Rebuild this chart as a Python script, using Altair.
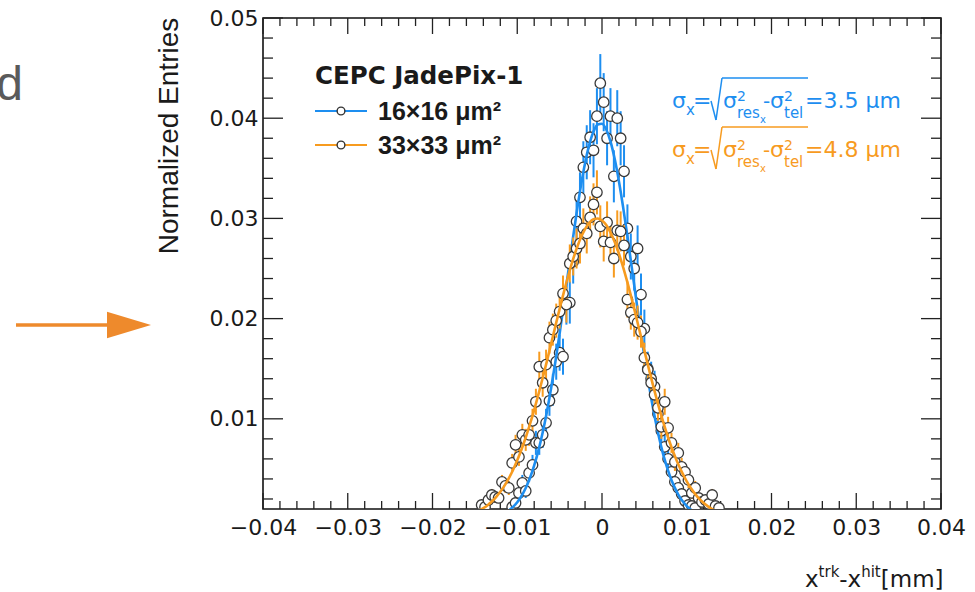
import altair as alt
import pandas as pd

# ---------------- data ----------------
x_major = [-0.04, -0.03, -0.02, -0.01, 0.0, 0.01, 0.02, 0.03, 0.04]
y_major = [0.01, 0.02, 0.03, 0.04, 0.05]

blue_x = [-0.0106, -0.0102, -0.0098, -0.0094, -0.0090, -0.0086, -0.0082, -0.0078, -0.0074, -0.0070,
          -0.0066, -0.0062, -0.0058, -0.0054, -0.0050, -0.0046, -0.0042, -0.0038, -0.0034, -0.0030,
          -0.0026, -0.0022, -0.0018, -0.0014, -0.0010, -0.0006, -0.0002, 0.0002, 0.0006, 0.0010,
          0.0014, 0.0018, 0.0022, 0.0026, 0.0030, 0.0034, 0.0038, 0.0042, 0.0046, 0.0050,
          0.0054, 0.0058, 0.0062, 0.0066, 0.0070, 0.0074, 0.0078, 0.0082, 0.0086, 0.0090,
          0.0094, 0.0098, 0.0102, 0.0106, 0.0110]
blue_y = [0.0012, 0.0016, 0.0026, 0.0036, 0.0028, 0.0046, 0.0054, 0.0076, 0.0076, 0.0084,
          0.0096, 0.0118, 0.0129, 0.0157, 0.0166, 0.0162, 0.0215, 0.0216, 0.0257, 0.0297,
          0.0321, 0.0351, 0.0366, 0.0381, 0.0368, 0.0402, 0.0435, 0.0416, 0.0380, 0.0402,
          0.0342, 0.0400, 0.0380, 0.0347, 0.0290, 0.0262, 0.0250, 0.0270, 0.0224, 0.0190,
          0.0150, 0.0140, 0.0132, 0.0105, 0.0088, 0.0072, 0.0060, 0.0047, 0.0037, 0.0031,
          0.0025, 0.0018, 0.0014, 0.0013, 0.0011]
blue_err = [0.0005, 0.0006, 0.0007, 0.0008, 0.0007, 0.0009, 0.0010, 0.0012, 0.0012, 0.0013,
            0.0014, 0.0015, 0.0016, 0.0018, 0.0018, 0.0018, 0.0021, 0.0021, 0.0022, 0.0024,
            0.0025, 0.0026, 0.0027, 0.0027, 0.0027, 0.0028, 0.0029, 0.0029, 0.0027, 0.0028,
            0.0026, 0.0028, 0.0027, 0.0026, 0.0024, 0.0023, 0.0022, 0.0023, 0.0021, 0.0019,
            0.0017, 0.0017, 0.0016, 0.0014, 0.0013, 0.0012, 0.0011, 0.0010, 0.0009, 0.0008,
            0.0007, 0.0006, 0.0005, 0.0005, 0.0005]

orange_x = [-0.0142, -0.0138, -0.0134, -0.0130, -0.0126, -0.0122, -0.0118, -0.0114, -0.0110, -0.0106,
            -0.0102, -0.0098, -0.0094, -0.0090, -0.0086, -0.0082, -0.0078, -0.0074, -0.0070, -0.0066,
            -0.0062, -0.0058, -0.0054, -0.0050, -0.0046, -0.0042, -0.0038, -0.0034, -0.0030, -0.0026,
            -0.0022, -0.0018, -0.0014, -0.0010, -0.0006, -0.0002, 0.0002, 0.0006, 0.0010, 0.0014,
            0.0018, 0.0022, 0.0026, 0.0030, 0.0034, 0.0038, 0.0042, 0.0046, 0.0050, 0.0054,
            0.0058, 0.0062, 0.0066, 0.0070, 0.0074, 0.0078, 0.0082, 0.0086, 0.0090, 0.0094,
            0.0098, 0.0102, 0.0106, 0.0110, 0.0114, 0.0118, 0.0122, 0.0126, 0.0130, 0.0134,
            0.0138]
orange_y = [0.0014, 0.0012, 0.0019, 0.0024, 0.0022, 0.0021, 0.0037, 0.0033, 0.0031, 0.0056,
            0.0074, 0.0062, 0.0084, 0.0079, 0.0084, 0.0098, 0.0117, 0.0152, 0.0136, 0.0154,
            0.0181, 0.0189, 0.0198, 0.0207, 0.0225, 0.0214, 0.0255, 0.0262, 0.0270, 0.0275,
            0.0290, 0.0285, 0.0301, 0.0314, 0.0326, 0.0292, 0.0277, 0.0296, 0.0276, 0.0260,
            0.0288, 0.0287, 0.0273, 0.0219, 0.0206, 0.0199, 0.0196, 0.0187, 0.0161, 0.0149,
            0.0136, 0.0124, 0.0111, 0.0092, 0.0117, 0.0091, 0.0076, 0.0057, 0.0066, 0.0052,
            0.0047, 0.0039, 0.0026, 0.0031, 0.0021, 0.0017, 0.0019, 0.0015, 0.0024, 0.0013,
            0.0011]
orange_err = [0.0004, 0.0004, 0.0005, 0.0006, 0.0006, 0.0005, 0.0007, 0.0007, 0.0007, 0.0009,
              0.0010, 0.0009, 0.0011, 0.0011, 0.0011, 0.0012, 0.0013, 0.0015, 0.0014, 0.0015,
              0.0016, 0.0016, 0.0017, 0.0017, 0.0018, 0.0018, 0.0019, 0.0019, 0.0020, 0.0020,
              0.0020, 0.0020, 0.0021, 0.0021, 0.0022, 0.0021, 0.0020, 0.0021, 0.0020, 0.0019,
              0.0020, 0.0020, 0.0020, 0.0018, 0.0017, 0.0017, 0.0017, 0.0016, 0.0015, 0.0015,
              0.0014, 0.0013, 0.0013, 0.0012, 0.0013, 0.0011, 0.0010, 0.0009, 0.0010, 0.0009,
              0.0008, 0.0008, 0.0006, 0.0007, 0.0005, 0.0005, 0.0005, 0.0005, 0.0006, 0.0004,
              0.0004]

# fitted curves
blue_fit_x = [-0.0115, -0.011, -0.0105, -0.01, -0.0095, -0.009, -0.0085, -0.008, -0.0075, -0.007,
              -0.0065, -0.006, -0.0055, -0.005, -0.0045, -0.004, -0.0035, -0.003, -0.0025, -0.002,
              -0.0015, -0.001, -0.0005, 0.0, 0.0005, 0.001, 0.0015, 0.002, 0.0025, 0.003,
              0.0035, 0.004, 0.0045, 0.005, 0.0055, 0.006, 0.0065, 0.007, 0.0075, 0.008,
              0.0085, 0.009, 0.0095, 0.01, 0.0105, 0.011]
blue_fit_y = [0.00059, 0.00085, 0.00121, 0.00168, 0.00230, 0.00310, 0.00410, 0.00535, 0.00685, 0.00864,
              0.01071, 0.01307, 0.01569, 0.01852, 0.02151, 0.02457, 0.02761, 0.03052, 0.03320, 0.03551,
              0.03736, 0.03868, 0.03938, 0.03945, 0.03887, 0.03768, 0.03592, 0.03369, 0.03108, 0.02821,
              0.02519, 0.02212, 0.01911, 0.01624, 0.01357, 0.01116, 0.00903, 0.00718, 0.00562, 0.00433,
              0.00328, 0.00244, 0.00179, 0.00129, 0.00092, 0.00064]
orange_fit_x = [-0.0155, -0.015, -0.0145, -0.014, -0.0135, -0.013, -0.0125, -0.012, -0.0115, -0.011,
                -0.0105, -0.01, -0.0095, -0.009, -0.0085, -0.008, -0.0075, -0.007, -0.0065, -0.006,
                -0.0055, -0.005, -0.0045, -0.004, -0.0035, -0.003, -0.0025, -0.002, -0.0015, -0.001,
                -0.0005, 0.0, 0.0005, 0.001, 0.0015, 0.002, 0.0025, 0.003, 0.0035, 0.004,
                0.0045, 0.005, 0.0055, 0.006, 0.0065, 0.007, 0.0075, 0.008, 0.0085, 0.009,
                0.0095, 0.01, 0.0105, 0.011, 0.0115, 0.012, 0.0125, 0.013, 0.0135]
orange_fit_y = [0.000495, 0.000649, 0.000842, 0.001085, 0.001383, 0.001748, 0.002188, 0.002714, 0.003334, 0.004060,
                0.004899, 0.005856, 0.006934, 0.008137, 0.009460, 0.01090, 0.01244, 0.01407, 0.01576, 0.01750,
                0.01925, 0.02097, 0.02265, 0.02423, 0.02568, 0.02697, 0.02806, 0.02893, 0.02955, 0.02991,
                0.02999, 0.02980, 0.02934, 0.02861, 0.02765, 0.02647, 0.02512, 0.02361, 0.02199, 0.02029,
                0.01855, 0.01680, 0.01508, 0.01341, 0.01181, 0.01031, 0.00892, 0.00764, 0.00649, 0.00546,
                0.00455, 0.00376, 0.00307, 0.00249, 0.00200, 0.00159, 0.00126, 0.00098, 0.00076]

legend_title = "CEPC JadePix-1"
legend_labels = ["16\u00d716 \u03bcm\u00b2", "33\u00d733 \u03bcm\u00b2"]
sigma_values = ["=3.5 \u03bcm", "=4.8 \u03bcm"]
y_title = "Normalized Entries"

# ---------------- style ----------------
BLUE = "#1d8ef0"
ORANGE = "#f79b1f"
ARROW = "#ee8a2c"
INK = "#1a1a1a"
W, H = 678, 491
NUM_FONT = "DejaVu Sans"

xdef = dict(scale=alt.Scale(domain=[-0.04, 0.04], nice=False, zero=False),
            axis=alt.Axis(values=x_major, format=".2~f", ticks=False, domain=False, grid=False,
                          labelFont=NUM_FONT, labelFontSize=22, labelColor=INK, labelPadding=8,
                          labelFlush=False, labelOverlap=False, title=None))
ydef = dict(scale=alt.Scale(domain=[0.001, 0.05], nice=False, zero=False),
            axis=alt.Axis(values=y_major, format=".2~f", ticks=False, domain=False, grid=False,
                          labelFont=NUM_FONT, labelFontSize=22, labelColor=INK, labelPadding=5,
                          labelOverlap=False, title=None))


def X(f="x"):
    return alt.X(f"{f}:Q", **xdef)


def Y(f="y"):
    return alt.Y(f"{f}:Q", **ydef)


def hist_df(xs, ys, es):
    return pd.DataFrame({"x": xs, "y": ys,
                         "lo": [v - e for v, e in zip(ys, es)],
                         "hi": [v + e for v, e in zip(ys, es)]})


def series_layers(xs, ys, es, fx, fy, color):
    d = hist_df(xs, ys, es)
    bars = alt.Chart(d).mark_rule(color=color, strokeWidth=2, clip=True).encode(
        x=X(), y=Y("lo"), y2="hi:Q")
    pts = alt.Chart(d).mark_point(shape="circle", filled=False, fill="white", fillOpacity=1,
                                  stroke="#3a3a3a", strokeWidth=1.3, size=110, opacity=1,
                                  clip=True).encode(x=X(), y=Y())
    fit = alt.Chart(pd.DataFrame({"x": fx, "y": fy})).mark_line(
        color=color, strokeWidth=2.6, interpolate="monotone", clip=True).encode(x=X(), y=Y())
    return [bars, pts, fit]


one = alt.Data(values=[{"a": 0}])


def txt(s, x, y, size, color=INK, font=NUM_FONT, weight="normal", align="left", angle=0):
    return alt.Chart(alt.Data(values=[{"t": s}])).mark_text(
        font=font, fontSize=size, fontWeight=weight, color=color, align=align,
        baseline="alphabetic", angle=angle).encode(x=alt.value(x), y=alt.value(y), text="t:N")


def seg(x1, y1, x2, y2, color, w=1.6):
    return alt.Chart(one).mark_rule(color=color, strokeWidth=w).encode(
        x=alt.value(x1), y=alt.value(y1), x2=alt.value(x2), y2=alt.value(y2))


layers = []

# ROOT-style inward ticks on all four sides
x_minor = [round(m + k * 0.002, 3) for m in x_major[:-1] for k in (1, 2, 3, 4)]
y_minor = [round(m + k * 0.002, 3) for m in [0.0] + y_major[:-1] for k in (1, 2, 3, 4)]
for vals, ln in ((x_major, 16), (x_minor, 8)):
    dfx = pd.DataFrame({"x": vals})
    layers.append(alt.Chart(dfx).mark_rule(color="#222", strokeWidth=1.3).encode(
        x=X(), y=alt.value(H), y2=alt.value(H - ln)))
    layers.append(alt.Chart(dfx).mark_rule(color="#222", strokeWidth=1.3).encode(
        x=X(), y=alt.value(0), y2=alt.value(ln)))
for vals, ln in ((y_major, 20), (y_minor, 10)):
    dfy = pd.DataFrame({"y": vals})
    layers.append(alt.Chart(dfy).mark_rule(color="#222", strokeWidth=1.3).encode(
        y=Y(), x=alt.value(0), x2=alt.value(ln)))
    layers.append(alt.Chart(dfy).mark_rule(color="#222", strokeWidth=1.3).encode(
        y=Y(), x=alt.value(W), x2=alt.value(W - ln)))

layers += series_layers(blue_x, blue_y, blue_err, blue_fit_x, blue_fit_y, BLUE)
layers += series_layers(orange_x, orange_y, orange_err, orange_fit_x, orange_fit_y, ORANGE)

# legend
layers.append(txt(legend_title, 52, 66, 24.5, weight="bold"))
for lab, ly, col in ((legend_labels[0], 93, BLUE), (legend_labels[1], 127, ORANGE)):
    layers.append(seg(52, ly, 104, ly, col, 2.2))
    layers.append(alt.Chart(one).mark_point(shape="circle", filled=False, fill="white", fillOpacity=1,
                                            stroke="#333333", strokeWidth=1.4, size=60, opacity=1)
                  .encode(x=alt.value(78), y=alt.value(ly)))
    layers.append(txt(lab, 115, ly + 9, 25, font="Liberation Sans", weight="bold"))

# sigma annotations
for y0, val, col in ((90, sigma_values[0], BLUE), (139, sigma_values[1], ORANGE)):
    layers += [
        txt("\u03c3", 409, y0, 22, col),
        txt("x", 423, y0 + 7, 15, col),
        txt("=", 430, y0, 22, col),
        seg(448, y0 - 7, 453, y0 + 12, col, 1.5),
        seg(453, y0 + 12, 459, y0 - 30, col, 1.5),
        seg(459, y0 - 30, 545, y0 - 30, col, 1.5),
        txt("\u03c3", 460, y0, 22, col),
        txt("2", 474, y0 - 7, 14, col),
        txt("res", 474, y0 + 10, 15, col),
        txt("x", 497, y0 + 15, 10, col),
        txt("-", 500, y0, 20, col),
        txt("\u03c3", 507, y0, 22, col),
        txt("2", 521, y0 - 7, 14, col),
        txt("tel", 521, y0 + 10, 15, col),
        txt(val, 542, y0, 22, col),
    ]

# axis titles
layers.append(txt(y_title, -85, 118, 28, font="Liberation Sans", align="center", angle=270))
for s, px, py, sz in (("x", 542, 569, 23), ("trk", 555.6, 559, 15), ("-", 576.3, 569, 23),
                      ("x", 584.6, 569, 23), ("hit", 598.2, 559, 15), ("[mm]", 617.8, 569, 23)):
    layers.append(txt(s, px, py, sz))

# slide decorations outside the plot
layers.append(txt("d", -240, 82, 48, color="#5a5a5a", font="Liberation Sans", align="right"))
layers.append(seg(-247, 307, -150, 307, ARROW, 3.5))
layers.append(alt.Chart(one).mark_point(shape="M-1,-0.6L1,0L-1,0.6Z", filled=True, color=ARROW,
                                        size=1936, opacity=1, strokeWidth=0)
              .encode(x=alt.value(-134), y=alt.value(307)))

chart = alt.layer(*layers).properties(
    width=W, height=H,
    padding={"left": 263, "top": 18, "right": 34, "bottom": 83},
    autosize=alt.AutoSizeParams(type="none"),
    background="white",
).configure_view(stroke="#111", strokeWidth=1.6)

chart.save("out.html", embed_options={"renderer": "svg", "actions": False})
